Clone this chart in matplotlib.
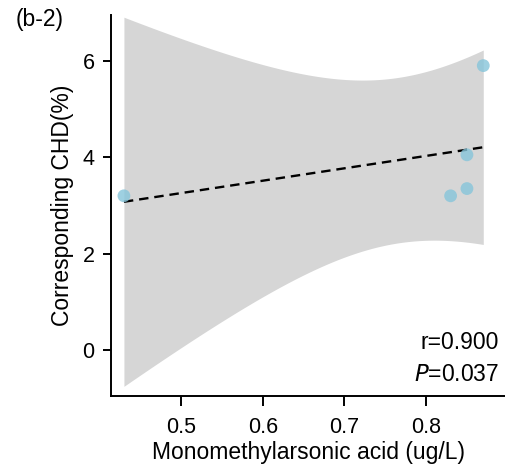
import numpy as np
import matplotlib
matplotlib.use("Agg")
import matplotlib.pyplot as plt

plt.rcParams['font.family'] = ['Liberation Sans', 'DejaVu Sans']

x_vals = np.array([0.43, 0.83, 0.85, 0.85, 0.87])
y_vals = np.array([3.2, 3.2, 3.35, 4.05, 5.9])
x_ticks = [0.5, 0.6, 0.7, 0.8]
y_ticks = [0, 2, 4, 6]
r_text = "r=0.900"
p_text = "0.037"

# linear fit + 95% CI
n = len(x_vals)
slope, intercept = np.polyfit(x_vals, y_vals, 1)
xs = np.linspace(x_vals.min(), x_vals.max(), 200)
yhat = intercept + slope * xs
resid = y_vals - (intercept + slope * x_vals)
s = np.sqrt(np.sum(resid**2) / (n - 2))
sxx = np.sum((x_vals - x_vals.mean())**2)
tval = 3.182446  # t(0.975, df=3)
se = s * np.sqrt(1 / n + (xs - x_vals.mean())**2 / sxx)

fig = plt.figure(figsize=(5.05, 4.68), dpi=100)
ax = fig.add_axes([0.22, 0.154, 0.78, 0.814])
ax.fill_between(xs, yhat - tval * se, yhat + tval * se, color='#d6d6d6', lw=0, zorder=1)
ax.plot(xs, yhat, color='black', ls=(0, (4, 2.5)), lw=1.7, zorder=2)
ax.scatter(x_vals, y_vals, s=85, color='#86c5da', alpha=0.8, edgecolors='none', zorder=3)

ax.set_xlim(0.4143, 0.8966)
ax.set_ylim(-0.95, 6.95)
ax.set_xticks(x_ticks)
ax.set_yticks(y_ticks)
ax.set_xticklabels([str(t) for t in x_ticks])
ax.tick_params(labelsize=15.5, length=6, width=1.4, colors='black', pad=6)
ax.tick_params(axis='x', length=7, pad=8)
for sp in ['top', 'right']:
    ax.spines[sp].set_visible(False)
for sp in ['left', 'bottom']:
    ax.spines[sp].set_linewidth(1.4)
ax.set_xlabel("Monomethylarsonic acid (ug/L)", fontsize=16.5, labelpad=2)
ax.set_ylabel("Corresponding CHD(%)", fontsize=16.5, labelpad=6)

ax.text(0.985, 0.14, r_text, transform=ax.transAxes, ha='right', va='center', fontsize=16.5)
ax.text(0.985, 0.055, r"$\it{P}$=" + p_text, transform=ax.transAxes, ha='right', va='center', fontsize=16.5)
fig.text(0.03, 0.958, "(b-2)", fontsize=16.5, ha='left', va='center')

fig.savefig("out.png", dpi=100)
